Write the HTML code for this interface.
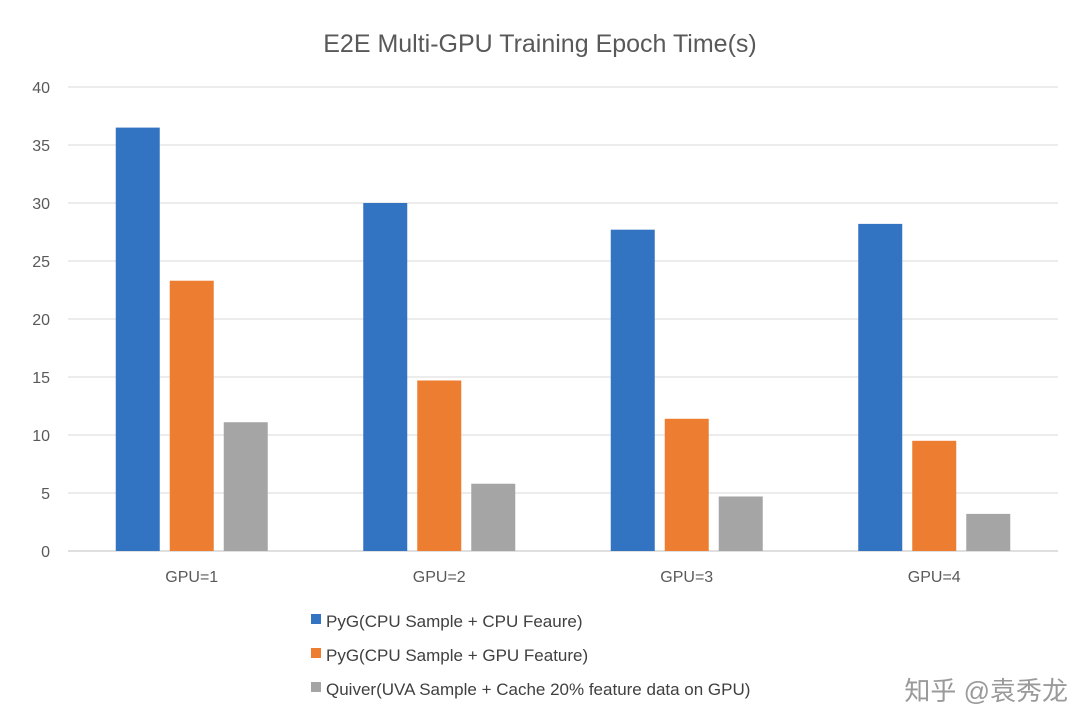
<!DOCTYPE html>
<html><head><meta charset="utf-8"><style>
body{margin:0;background:#fff;}
svg{display:block;font-family:"Liberation Sans","Noto Sans CJK SC",sans-serif;}
</style></head><body>
<svg id="chart" width="1080" height="711">
<text x="540" y="52" text-anchor="middle" font-size="25" fill="#595959">E2E Multi-GPU Training Epoch Time(s)</text>
<g id="grid"></g><g id="bars"></g><g id="xlabels"></g>
<g>
<rect x="311" y="614" width="10" height="10" fill="#3274c2"/>
<text x="326" y="627" font-size="17" fill="#404040">PyG(CPU Sample + CPU Feaure)</text>
<rect x="311" y="648" width="10" height="10" fill="#ed7d31"/>
<text x="326" y="661" font-size="17" fill="#404040">PyG(CPU Sample + GPU Feature)</text>
<rect x="311" y="682" width="10" height="10" fill="#a5a5a5"/>
<text x="326" y="695" font-size="17" fill="#404040">Quiver(UVA Sample + Cache 20% feature data on GPU)</text>
</g>
<text x="1068" y="700" text-anchor="end" font-size="26" fill="#9a9a9a">知乎 @袁秀龙</text>
</svg>
<script>
const categories=["GPU=1","GPU=2","GPU=3","GPU=4"];
const seriesCpu=[36.5,30,27.7,28.2];
const seriesGpu=[23.3,14.7,11.4,9.5];
const seriesQuiver=[11.1,5.8,4.7,3.2];
const yTicks=[0,5,10,15,20,25,30,35,40];
const NS="http://www.w3.org/2000/svg";
const x0=68,x1=1058,yb=551,yt=87,ymax=40;
const y=v=>yb-(v/ymax)*(yb-yt);
const gw=(x1-x0)/categories.length;
function mk(t,a,p){const e=document.createElementNS(NS,t);for(const k in a)e.setAttribute(k,a[k]);p.appendChild(e);return e;}
const grid=document.getElementById('grid');
yTicks.forEach(v=>{
 const l=mk('line',{x1:x0,x2:x1,y1:y(v),y2:y(v),stroke:v===0?'#bfbfbf':'#d9d9d9','stroke-width':1},grid);
 
 
 const t=mk('text',{x:50,y:y(v)+6,'text-anchor':'end','font-size':16,fill:'#595959'},grid);
 t.textContent=v;
 
 
});
const series=[[seriesCpu,'#3274c2','cpu'],[seriesGpu,'#ed7d31','gpu'],[seriesQuiver,'#a5a5a5','quiver']];
const bars=document.getElementById('bars'),xl=document.getElementById('xlabels');
const bw=44,gap=10;
categories.forEach((c,i)=>{
 const cx=x0+gw*(i+0.5);
 series.forEach((s,j)=>{
  const bx=cx+(j-1)*(bw+gap)-bw/2;
  const r=mk('rect',{x:bx,y:y(s[0][i]),width:bw,height:yb-y(s[0][i]),fill:s[1]},bars);
  
  
 });
 const t=mk('text',{x:cx,y:582,'text-anchor':'middle','font-size':16,fill:'#595959'},xl);
 t.textContent=c;
 
 
});
</script>
</body></html>
